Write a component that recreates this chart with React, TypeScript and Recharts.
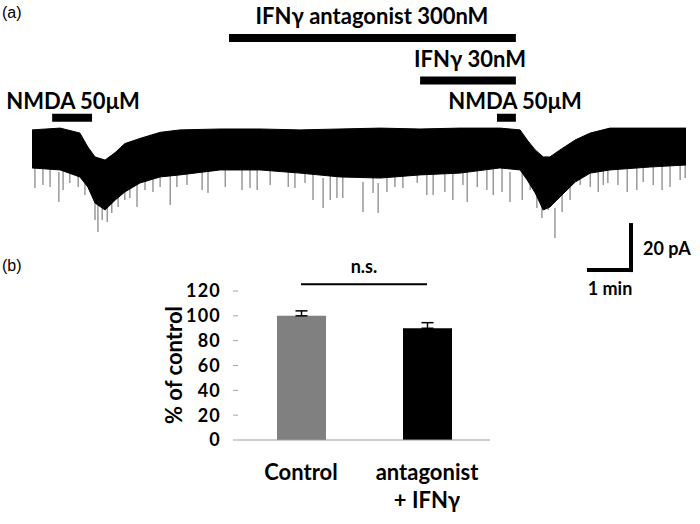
import {
  ComposedChart,
  Area,
  Scatter,
  XAxis,
  YAxis,
  ReferenceLine,
  BarChart,
  Bar,
  Cell,
  ErrorBar,
} from "recharts";

// (a) whole-cell current trace, time in min, current in pA (0 = holding level)
const TRACE_TIME = [0, 0.67, 1.14, 1.33, 1.5, 1.74, 1.98, 2.21, 2.57, 3.05, 3.52, 4.48, 5.43, 6.38, 7.33, 8.29, 9.24, 10.19, 11.14, 11.62, 11.79, 11.98, 12.17, 12.33, 12.57, 12.93, 13.29, 13.76, 14.71, 15.57];
const TRACE_UPPER = [-0.4, 0.4, -1.8, -8, -12.4, -13.8, -10.5, -6.5, -4.2, -1.5, -0.4, 0, 0, -0.4, 0, 0.4, 0, 0.4, 0.4, -0.4, -4.9, -9.3, -12.4, -12.4, -9.3, -4.9, -1.8, 0.4, 0.4, 0.4];
const TRACE_LOWER = [-17.3, -18.2, -21.3, -25.8, -32.9, -36, -31.6, -28, -24, -21.3, -20.4, -18.2, -18.2, -19.6, -21.3, -21.8, -20.4, -19.6, -17.3, -18.2, -22.7, -28.4, -36, -34.7, -30.2, -23.6, -19.6, -18.2, -16.9, -16];

// downward synaptic events poking out of the noise band
const SPIKE_TIME = [0.07, 0.26, 0.43, 0.64, 0.74, 0.9, 1.1, 1.26, 1.5, 1.57, 1.67, 1.79, 1.9, 2.05, 2.21, 2.33, 2.5, 2.69, 2.88, 3.05, 3.29, 3.45, 3.69, 4.05, 4.19, 4.6, 5.0, 5.19, 5.36, 5.67, 6.1, 6.26, 6.5, 6.69, 6.93, 7.1, 7.26, 7.4, 7.88, 8.12, 8.24, 8.45, 8.64, 8.83, 9.17, 9.4, 9.55, 9.83, 10.02, 10.26, 10.36, 10.6, 10.83, 10.98, 11.19, 11.38, 11.67, 11.86, 12.02, 12.14, 12.29, 12.45, 12.62, 12.81, 13.05, 13.29, 13.48, 13.6, 13.71, 13.95, 14.17, 14.4, 14.55, 14.79, 15.0, 15.19, 15.43, 15.55];
const SPIKE_DEPTH = [-26.2, -24.9, -25.8, -32.4, -27.1, -24, -25.8, -29.3, -40.4, -45.8, -40.4, -41.3, -37.3, -34.7, -31.6, -30.7, -34.7, -27.1, -28, -25.8, -33.8, -25.8, -24.9, -27.1, -28.4, -25.8, -27.1, -26.2, -27.1, -24.9, -25.8, -26.2, -24, -31.6, -35.1, -31.6, -30.7, -30.7, -36.9, -28.4, -37.3, -28, -25.8, -26.2, -24, -29.3, -29.3, -28, -31.6, -24.9, -32.4, -25.8, -27.1, -29.3, -28, -32.4, -31.6, -27.1, -35.1, -39.6, -36, -48.4, -36.9, -31.6, -24.9, -25.8, -28, -24.9, -24, -24.9, -28, -27.1, -23.6, -24.9, -27.1, -25.8, -22.7, -21.8];

// drug applications (min)
const DRUG_LABELS = ["IFNγ antagonist 300nM", "IFNγ 30nM", "NMDA 50μM", "NMDA 50μM"];
const DRUG_START = [4.69, 9.24, 0.48, 11.07];
const DRUG_END = [11.52, 11.52, 1.43, 11.52];

// scale bar
const SCALE_MIN = 1;
const SCALE_PA = 20;

// (b) summary
const CONDITIONS = ["Control", "antagonist\n+ IFNγ"];
const RESPONSE = [100, 90];
const RESPONSE_SEM = [4, 4.5];
const PCT_TICKS = [0, 20, 40, 60, 80, 100, 120];

const traceData = TRACE_TIME.map((t, i) => ({ t, range: [TRACE_LOWER[i], TRACE_UPPER[i]] }));
const spikeData = SPIKE_TIME.map((t, i) => ({ t, v: SPIKE_DEPTH[i] }));
const barData = CONDITIONS.map((name, i) => ({ name, value: RESPONSE[i], err: [0, RESPONSE_SEM[i]] }));

// layout bits (pA-axis positions for the application bars, label pixels)
const DRUG_ROW = [40.4, 21.6, 5.0, 5.0];
const DRUG_TEXT = [
  { x: 372, y: 24 },
  { x: 470, y: 67 },
  { x: 73, y: 109 },
  { x: 515, y: 109 },
];
const SCALE_X0 = 13.26;
const SCALE_Y0 = -62.7;

const TRACE_MARGIN = { top: 0, right: 14, left: 32, bottom: 0 };
const T_DOMAIN = [0, 15.57];
const PA_DOMAIN = [-76, 57.33];

const FONT = "Lato, 'Open Sans', sans-serif";

const Spike = (props: any) => (
  <line x1={props.cx} x2={props.cx} y1={props.cy} y2={props.cy - 30} stroke="#808080" strokeWidth={1.2} />
);

const CategoryTick = (props: any) => {
  const { x, y, payload } = props;
  const lines = String(payload.value).split("\n");
  return (
    <text x={x} y={y} textAnchor="middle" fontFamily={FONT} fontWeight={700} fontSize={22} fill="#000">
      {lines.map((l, i) => (
        <tspan key={i} x={x} dy={i === 0 ? 32 : 28}>
          {l}
        </tspan>
      ))}
    </text>
  );
};

export default function App() {
  return (
    <div style={{ position: "absolute", left: 0, top: 0, width: 700, height: 524, background: "#fff" }}>
      {/* spikes underneath, band on top */}
      <div style={{ position: "absolute", left: 0, top: 0 }}>
        <ComposedChart width={700} height={300} data={spikeData} margin={TRACE_MARGIN}>
          <XAxis type="number" dataKey="t" domain={T_DOMAIN} allowDataOverflow hide />
          <YAxis type="number" domain={PA_DOMAIN} allowDataOverflow hide />
          <Scatter dataKey="v" shape={<Spike />} isAnimationActive={false} />
        </ComposedChart>
      </div>
      <div style={{ position: "absolute", left: 0, top: 0 }}>
        <ComposedChart width={700} height={300} data={traceData} margin={TRACE_MARGIN}>
          <XAxis type="number" dataKey="t" domain={T_DOMAIN} allowDataOverflow hide />
          <YAxis type="number" domain={PA_DOMAIN} allowDataOverflow hide />
          <Area
            type="linear"
            dataKey="range"
            stroke="#000"
            strokeWidth={1}
            fill="#000"
            fillOpacity={1}
            dot={false}
            activeDot={false}
            isAnimationActive={false}
          />
          {DRUG_LABELS.map((label, i) => (
            <ReferenceLine
              key={label + i}
              segment={[
                { x: DRUG_START[i], y: DRUG_ROW[i] },
                { x: DRUG_END[i], y: DRUG_ROW[i] },
              ]}
              stroke="#000"
              strokeWidth={8}
            />
          ))}
          <ReferenceLine
            segment={[
              { x: SCALE_X0, y: SCALE_Y0 },
              { x: SCALE_X0 + SCALE_MIN, y: SCALE_Y0 },
            ]}
            stroke="#000"
            strokeWidth={4}
            strokeLinecap="square"
          />
          <ReferenceLine
            segment={[
              { x: SCALE_X0 + SCALE_MIN, y: SCALE_Y0 },
              { x: SCALE_X0 + SCALE_MIN, y: SCALE_Y0 + SCALE_PA },
            ]}
            stroke="#000"
            strokeWidth={4}
            strokeLinecap="square"
          />
        </ComposedChart>
      </div>

      <div style={{ position: "absolute", left: 150, top: 250 }}>
        <BarChart width={360} height={274} data={barData} margin={{ top: 41, right: 20, left: 28, bottom: 0 }}>
          <XAxis dataKey="name" axisLine={{ stroke: "#9a9a9a" }} tickLine={false} height={84} tick={<CategoryTick />} interval={0} />
          <YAxis
            width={60}
            domain={[0, 120]}
            ticks={PCT_TICKS}
            interval={0}
            axisLine={false}
            tickLine={{ stroke: "#a6a6a6" }}
            tickSize={5}
            tickMargin={12}
            tick={{ fontFamily: FONT, fontWeight: 700, fontSize: 18, fill: "#000", letterSpacing: 1.2 }}
          />
          <ReferenceLine
            segment={[
              { x: CONDITIONS[0], y: 125.4 },
              { x: CONDITIONS[1], y: 125.4 },
            ]}
            ifOverflow="visible"
            stroke="#000"
            strokeWidth={2}
            label={{ value: "n.s.", position: "top", offset: 11, fontFamily: FONT, fontWeight: 700, fontSize: 18, fill: "#000" }}
          />
          <Bar dataKey="value" barSize={49} isAnimationActive={false}>
            {barData.map((d, i) => (
              <Cell key={d.name} fill={i === 0 ? "#808080" : "#000000"} />
            ))}
            <ErrorBar dataKey="err" width={6} stroke="#000" strokeWidth={1.5} direction="y" />
          </Bar>
        </BarChart>
      </div>

      <svg width={700} height={524} style={{ position: "absolute", left: 0, top: 0, pointerEvents: "none" }}>
        <text x={2} y={18} fontFamily="'Liberation Sans', Arial, sans-serif" fontSize={16} fill="#000">
          (a)
        </text>
        <text x={2} y={271} fontFamily="'Liberation Sans', Arial, sans-serif" fontSize={16} fill="#000">
          (b)
        </text>
        {DRUG_LABELS.map((label, i) => (
          <text key={label + i} x={DRUG_TEXT[i].x} y={DRUG_TEXT[i].y} textAnchor="middle" fontFamily={FONT} fontWeight={700} fontSize={22} fill="#000">
            {label}
          </text>
        ))}
        <text x={643} y={255} fontFamily={FONT} fontWeight={700} fontSize={18} fill="#000">
          {SCALE_PA} pA
        </text>
        <text x={610} y={295} textAnchor="middle" fontFamily={FONT} fontWeight={700} fontSize={18} fill="#000">
          {SCALE_MIN} min
        </text>
        <text
          x={182}
          y={365}
          transform="rotate(-90 182 365)"
          textAnchor="middle"
          fontFamily={FONT}
          fontWeight={700}
          fontSize={22}
          fill="#000"
        >
          % of control
        </text>
      </svg>
    </div>
  );
}
